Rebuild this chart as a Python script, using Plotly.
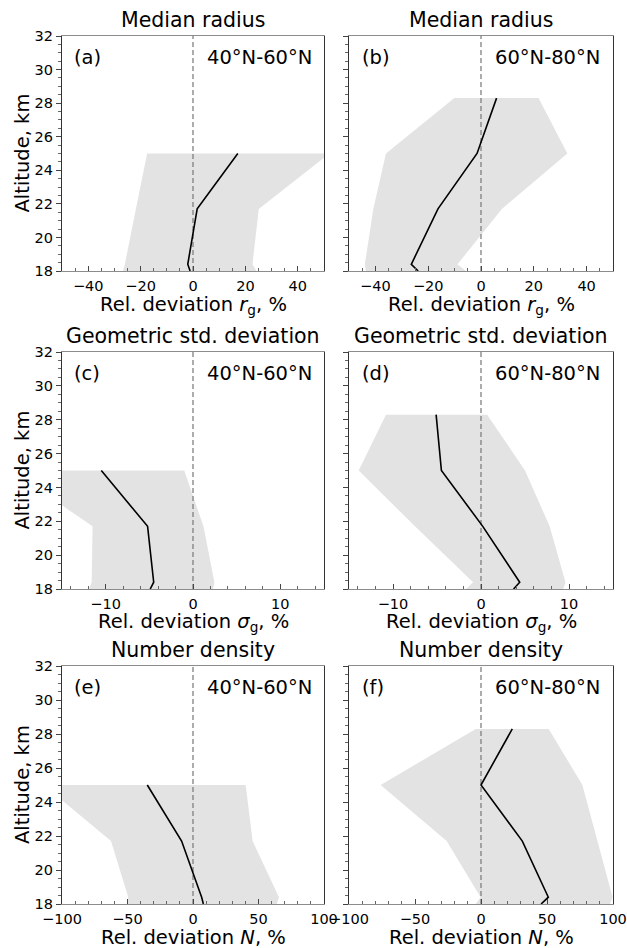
import plotly.graph_objects as go

# ---------------- data ----------------
alt_40 = [18.0, 18.4, 21.7, 25.0]
alt_60 = [18.0, 18.4, 21.7, 25.0, 28.3]

rg_40_mean = [-1.1, -2.0, 1.6, 17.1]
rg_40_lo = [-26.7, -26.0, -21.8, -17.5]
rg_40_hi = [24.2, 22.7, 25.1, 52.1]

rg_60_mean = [-23.8, -26.4, -16.3, -1.5, 5.9]
rg_60_lo = [-43.6, -44.0, -40.8, -36.0, -10.1]
rg_60_hi = [-5.7, -8.9, 7.9, 32.7, 21.8]

sg_40_mean = [-4.9, -4.5, -5.2, -10.5]
sg_40_lo = [-11.9, -11.6, -11.5, -20.8]
sg_40_hi = [2.3, 2.45, 1.2, -1.0]

sg_60_mean = [3.7, 4.4, 0.2, -4.5, -5.1]
sg_60_lo = [-1.7, -0.9, -7.5, -13.9, -10.8]
sg_60_hi = [9.35, 9.6, 7.8, 5.0, 0.7]

n_40_mean = [7.9, 6.6, -8.7, -34.9]
n_40_lo = [-50.6, -49.4, -62.6, -114.0]
n_40_hi = [64.0, 65.6, 45.5, 40.2]

n_60_mean = [45.5, 51.0, 31.3, 0.0, 23.7]
n_60_lo = [-4.0, -0.3, -26.0, -76.0, -4.0]
n_60_hi = [97.7, 99.7, 88.0, 76.8, 51.3]

titles = ["Median radius", "Geometric std. deviation", "Number density"]
letters = ["(a)", "(b)", "(c)", "(d)", "(e)", "(f)"]
regions = ["40°N-60°N", "60°N-80°N"]
xlabels = ["Rel. deviation <i>r</i><sub>g</sub>, %",
           "Rel. deviation <i>σ</i><sub>g</sub>, %",
           "Rel. deviation <i>N</i>, %"]
ylabel = "Altitude, km"
x_ranges = [[-50, 50], [-15, 15], [-100, 100]]
x_dticks = [20, 10, 50]
x_minor = [5, 2, 10]
y_range = [18, 32]

panels = [
    (alt_40, rg_40_mean, rg_40_lo, rg_40_hi),
    (alt_60, rg_60_mean, rg_60_lo, rg_60_hi),
    (alt_40, sg_40_mean, sg_40_lo, sg_40_hi),
    (alt_60, sg_60_mean, sg_60_lo, sg_60_hi),
    (alt_40, n_40_mean, n_40_lo, n_40_hi),
    (alt_60, n_60_mean, n_60_lo, n_60_hi),
]

# ---------------- layout geometry ----------------
W, H = 627, 948
col_px = [(62, 324), (349, 613)]
row_px = [(36, 271), (352, 589), (666, 904)]
xlabel_y_px = [305, 622, 937]
ylabel_x_px = 22

FONT = "DejaVu Sans"
fig = go.Figure()
layout = dict(
    width=W, height=H,
    margin=dict(l=0, r=0, t=0, b=0, autoexpand=False),
    paper_bgcolor="white", plot_bgcolor="white",
    showlegend=False,
    font=dict(family=FONT, color="black", size=15),
)
annotations = []

for i, (alt, mean, lo, hi) in enumerate(panels):
    r, c = divmod(i, 2)
    n = i + 1
    xa = "x" if n == 1 else f"x{n}"
    ya = "y" if n == 1 else f"y{n}"
    xd = [col_px[c][0] / W, col_px[c][1] / W]
    yd = [1 - row_px[r][1] / H, 1 - row_px[r][0] / H]

    # shaded band
    fig.add_trace(go.Scatter(
        x=list(lo) + list(hi)[::-1], y=list(alt) + list(alt)[::-1],
        fill="toself", fillcolor="#e3e3e3", mode="lines",
        line=dict(width=0, color="#e3e3e3"), hoverinfo="skip",
        xaxis=xa, yaxis=ya))
    # zero line
    fig.add_trace(go.Scatter(
        x=[0, 0], y=y_range, mode="lines",
        line=dict(color="#808080", width=1.3, dash="5px,3px"),
        xaxis=xa, yaxis=ya))
    # mean line
    fig.add_trace(go.Scatter(
        x=mean, y=alt, mode="lines",
        line=dict(color="black", width=1.6),
        xaxis=xa, yaxis=ya))

    xkey = "xaxis" if n == 1 else f"xaxis{n}"
    ykey = "yaxis" if n == 1 else f"yaxis{n}"
    layout[xkey] = dict(
        domain=xd, anchor=ya, range=x_ranges[r], dtick=x_dticks[r], tick0=0,
        automargin=False,
        ticks="inside", ticklen=5, tickwidth=1, tickcolor="#444",
        minor=dict(dtick=x_minor[r], ticks="inside", ticklen=3, tickcolor="#666"),
        showline=True, linecolor="#8c8c8c", linewidth=1.3, mirror=True,
        showgrid=False, zeroline=False,
        ticklabelstandoff=1,
        tickfont=dict(size=14.5, family=FONT),
    )
    layout[ykey] = dict(
        domain=yd, anchor=xa, range=y_range, dtick=2, tick0=0,
        automargin=False,
        ticks="outside", ticklen=5, tickwidth=1, tickcolor="#444",
        minor=dict(dtick=0.5, ticks="outside", ticklen=3, tickcolor="#666"),
        showline=True, linecolor="#333333", linewidth=1.3, mirror=True,
        showgrid=False, zeroline=False,
        showticklabels=(c == 0),
        tickfont=dict(size=14.5, family=FONT),
    )

    # x-axis label
    annotations.append(dict(
        text=xlabels[r], x=(xd[0] + xd[1]) / 2, y=1 - xlabel_y_px[r] / H,
        xref="paper", yref="paper", xanchor="center", yanchor="middle",
        showarrow=False, font=dict(size=19.5, family=FONT)))
    # y-axis label
    if c == 0:
        annotations.append(dict(
            text=ylabel, x=ylabel_x_px / W, y=(yd[0] + yd[1]) / 2,
            xref="paper", yref="paper", xanchor="center", yanchor="middle",
            textangle=-90, showarrow=False, font=dict(size=19.5, family=FONT)))
    # panel title
    annotations.append(dict(
        text=titles[r], x=(xd[0] + xd[1]) / 2, y=yd[1], xref="paper", yref="paper",
        xanchor="center", yanchor="bottom", yshift=2, showarrow=False,
        font=dict(size=20.5, family=FONT)))
    # letter
    annotations.append(dict(
        text=letters[i], x=0.04, y=0.91, xref=f"{xa} domain", yref=f"{ya} domain",
        xanchor="left", yanchor="middle", showarrow=False,
        font=dict(size=19.5, family=FONT)))
    # region
    annotations.append(dict(
        text=regions[c], x=0.96, y=0.91, xref=f"{xa} domain", yref=f"{ya} domain",
        xanchor="right", yanchor="middle", showarrow=False,
        font=dict(size=19.5, family=FONT)))

layout["annotations"] = annotations
fig.update_layout(**layout)
fig.write_html("out.html")
